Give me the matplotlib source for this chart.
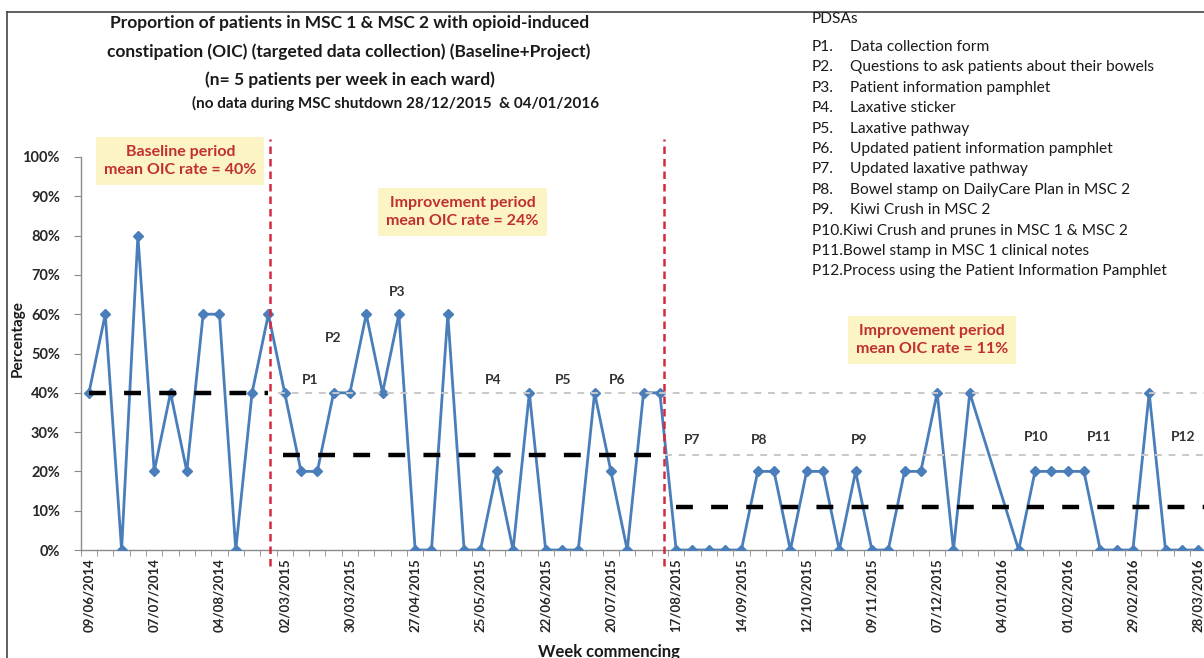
#!/usr/bin/env python3
"""OIC run chart: baseline + two improvement periods, weekly % with PDSA markers."""

import numpy as np
import pandas as pd
import matplotlib
matplotlib.use('Agg')
import matplotlib.pyplot as plt
from matplotlib.lines import Line2D

# categories: weeks commencing (baseline summer 2014, project Mar 2015 - Mar 2016)
baseline_weeks = pd.date_range('2014-06-09', periods=12, freq='7D')
project_weeks = pd.date_range('2015-03-02', '2016-03-28', freq='7D')
weeks = list(baseline_weeks) + list(project_weeks)
week_labels = [w.strftime('%d/%m/%Y') for w in weeks]

# % of the 5 patients per week with OIC (None = MSC shutdown, no data)
baseline_pct = [40, 60, 0, 80, 20, 40, 20, 60, 60, 0, 40, 60]
period1_pct = [40, 20, 20, 40, 40, 60, 40, 60, 0, 0, 60, 0,
               0, 20, 0, 40, 0, 0, 0, 40, 20, 0, 40, 40]
period2_pct = [0, 0, 0, 0, 0, 20, 20, 0, 20, 20, 0, 20, 0, 0, 20, 20,
               40, 0, 40, None, None, 0, 20, 20, 20, 20, 0, 0, 0, 40,
               0, 0, 0]

pdsa_tags = ['P1', 'P2', 'P3', 'P4', 'P5', 'P6', 'P7', 'P8', 'P9', 'P10', 'P11', 'P12']
pdsa_names = [
    'Data collection form',
    'Questions to ask patients about their bowels',
    'Patient information pamphlet',
    'Laxative sticker',
    'Laxative pathway',
    'Updated patient information pamphlet',
    'Updated laxative pathway',
    'Bowel stamp on DailyCare Plan in MSC 2',
    'Kiwi Crush in MSC 2',
    'Kiwi Crush and prunes in MSC 1 & MSC 2',
    'Bowel stamp in MSC 1 clinical notes',
    'Process using the Patient Information Pamphlet',
]

# where the PDSA tags sit on the chart (week index, fraction)
pdsa_pos = [(13.55, 0.433), (14.96, 0.539), (18.9, 0.656), (24.8, 0.433),
            (29.1, 0.433), (32.4, 0.433), (36.97, 0.28), (41.1, 0.28),
            (47.2, 0.28), (58.1, 0.288), (61.9, 0.288), (67.1, 0.288)]

BLUE = '#4a7ebb'
DARKRED = '#c0302e'
REDLINE = '#d42a40'
INK = '#1a1a1a'
FONT = 'Lato'

plt.rcParams['font.family'] = [FONT, 'DejaVu Sans']

all_pct = baseline_pct + period1_pct + period2_pct
idx = np.arange(len(all_pct))
vals = np.array([np.nan if v is None else v / 100.0 for v in all_pct])
ok = ~np.isnan(vals)

n_base = len(baseline_pct)
n_p1 = len(period1_pct)
b_end = n_base - 1
p1_start = n_base
p1_end = n_base + n_p1 - 1
p2_start = p1_end + 1

mean_base = np.nanmean(vals[:n_base])
mean_p1 = np.nanmean(vals[p1_start:p1_end + 1])
mean_p2 = np.nanmean(vals[p2_start:])

W, H = 1204, 658
fig = plt.figure(figsize=(W / 100, H / 100), dpi=100)
ax = fig.add_axes([80.8 / W, 1 - 550 / H, 1 - 80.8 / W, 393 / H])
x_right = 68.36
ax.set_xlim(-0.5, x_right)
ax.set_ylim(0, 1.0)

# grey extension of previous means
ax.plot([p1_start - 0.4, x_right], [mean_base, mean_base], color='#c8c8c8',
        lw=1.4, dashes=(3.5, 3.5), zorder=4)
ax.plot([p1_end + 0.3, x_right], [mean_p1, mean_p1], color='#c8c8c8',
        lw=1.4, dashes=(3.5, 3.5), zorder=4)

# data series
ax.plot(idx[ok], vals[ok], color=BLUE, lw=2.0, marker='D', ms=5,
        mec=BLUE, mfc=BLUE, zorder=3)

# period means
ax.plot([0, b_end], [mean_base, mean_base], color='black', lw=3.2,
        dashes=(3.8, 4.1), zorder=5)
ax.plot([p1_start - 0.1, p1_end], [mean_p1, mean_p1], color='black', lw=3.2,
        dashes=(3.8, 4.1), zorder=5)
ax.plot([p2_start, x_right], [mean_p2, mean_p2], color='black', lw=3.2,
        dashes=(3.8, 4.1), zorder=5)

# period boundaries
for xb in (b_end + 0.1, p1_end + 0.27):
    ax.plot([xb, xb], [-0.04, 1.045], color=REDLINE, lw=1.8,
            dashes=(3, 2), clip_on=False, zorder=6)

# axes styling
for s in ('top', 'right'):
    ax.spines[s].set_visible(False)
for s in ('left', 'bottom'):
    ax.spines[s].set_color('#8a8a8a')
    ax.spines[s].set_linewidth(1.0)

yt = np.arange(0, 1.01, 0.1)
ax.set_yticks(yt)
ax.set_yticklabels([f'{int(round(v * 100))}%' for v in yt], fontsize=10.5,
                   fontweight='bold', color='#262626')
ax.tick_params(axis='y', length=5, color='#8a8a8a', pad=10)

label_pos = list(range(0, len(weeks), 4))
ax.set_xticks(label_pos)
ax.set_xticklabels([week_labels[i] for i in label_pos], rotation=90,
                   fontsize=9.5, fontweight='bold', color='#262626')
ax.tick_params(axis='x', which='major', length=0, pad=6)
ax.set_xticks(np.arange(-0.5, x_right, 1), minor=True)
ax.tick_params(axis='x', which='minor', length=4, color='#8a8a8a')

# PDSA tags on the chart
for tag, (px, py) in zip(pdsa_tags, pdsa_pos):
    ax.text(px, py, tag, fontsize=10, fontweight='bold', color='#333333',
            ha='center', va='center')

# period boxes
box = dict(boxstyle='square,pad=0.5', fc='#fdf4c6', ec='none')
box_text = dict(ha='center', va='center', fontsize=11.5, fontweight='bold',
                color=DARKRED, linespacing=1.4, bbox=box, zorder=7)
ax.text(5.6, (550 - 161) / 393, f'Baseline period\nmean OIC rate = {mean_base:.0%}', **box_text)
ax.text(22.9, (550 - 212) / 393, f'Improvement period\nmean OIC rate = {mean_p1:.0%}', **box_text)
ax.text(51.7, (550 - 340) / 393, f'Improvement period\nmean OIC rate = {mean_p2:.0%}', **box_text)


# title block
def fx(px):
    return px / W


def fy(py):
    return 1 - py / H


title_kw = dict(ha='center', va='center', fontsize=12.5, fontweight='bold', color=INK)
fig.text(fx(350), fy(23), 'Proportion of patients in MSC 1 & MSC 2 with opioid-induced', **title_kw)
fig.text(fx(349), fy(52), 'constipation (OIC) (targeted data collection) (Baseline+Project)',
         **title_kw)
fig.text(fx(350), fy(80), '(n= 5 patients per week in each ward)', **title_kw)
fig.text(fx(396), fy(103), '(no data during MSC shutdown 28/12/2015  & 04/01/2016',
         ha='center', va='center', fontsize=11, fontweight='bold', color=INK)

# PDSA legend
leg_kw = dict(ha='left', va='center', fontsize=11.2, color=INK)
fig.text(fx(812), fy(19), 'PDSAs', **leg_kw)
for k, (tag, name) in enumerate(zip(pdsa_tags, pdsa_names)):
    yy = fy(47 + 20.4 * k)
    if len(tag) == 2:
        fig.text(fx(812), yy, tag + '.', **leg_kw)
        fig.text(fx(850), yy, name, **leg_kw)
    else:
        fig.text(fx(812), yy, f'{tag}.{name}', **leg_kw)

fig.text(fx(18), fy(339), 'Percentage', rotation=90, ha='center', va='center',
         fontsize=11, fontweight='bold', color=INK)
fig.text(fx(609), fy(652), 'Week commencing', ha='center', va='center',
         fontsize=12, fontweight='bold', color=INK)

# outer frame (cropped at right and bottom)
fig.add_artist(Line2D([fx(7), 1.0], [fy(12), fy(12)], color='#444444', lw=1.2))
fig.add_artist(Line2D([fx(7), fx(7)], [fy(12), 0.0], color='#444444', lw=1.2))

fig.savefig('out.png', dpi=100)
plt.close(fig)
print('Wrote out.png')
